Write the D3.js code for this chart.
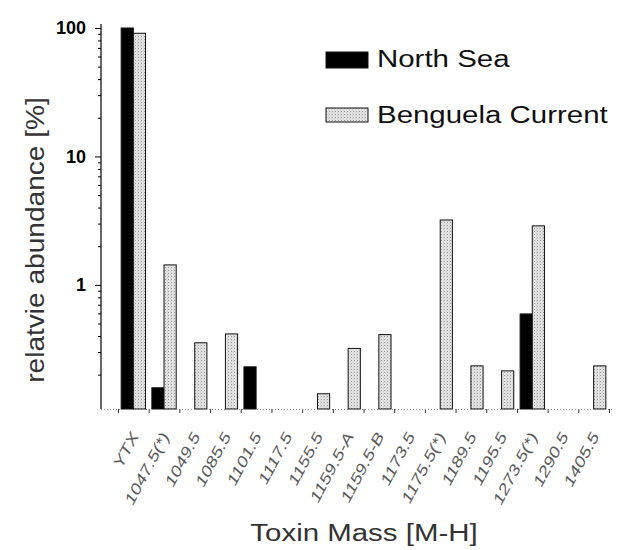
<!DOCTYPE html>
<meta charset="utf-8">
<title>Toxin abundance</title>
<style>
  body { margin: 0; background: #fff; }
  svg { font-family: Arial, "Liberation Sans", sans-serif; }
  .cat-label { font-size: 15px; font-style: italic; fill: #5a5a5a; }
  .axis-title { fill: #333; }
</style>
<body>
<svg width="621" height="550"></svg>
<script src="https://d3js.org/d3.v7.min.js"></script>
<script>
  // categories (toxin masses) and relative abundance per region, in %
  var masses = ["YTX", "1047.5(*)", "1049.5", "1085.5", "1101.5", "1117.5", "1155.5", "1159.5-A",
    "1159.5-B", "1173.5", "1175.5(*)", "1189.5", "1195.5", "1273.5(*)", "1290.5", "1405.5"];
  var northSea = [100, 0.158, null, null, 0.23, null, null, null, null, null, null, null, null, 0.594, null, null];
  var benguela = [91, 1.43, 0.354, 0.415, null, null, 0.142, 0.32, 0.41, null, 3.2, 0.234, 0.214, 2.88, null, 0.234];
  var series = ["North Sea", "Benguela Current"];
  var majorTicks = [1, 10, 100];

  // the scanned figure uses a wide typeface, stretch Arial sideways
  const STRETCH = 1.28;

  const svg = d3.select("svg");

  // stippled fill for the light bars
  var pat = svg.append("defs").append("pattern")
    .attr("id", "stipple")
    .attr("width", 3).attr("height", 3)
    .attr("patternUnits", "userSpaceOnUse");
  pat.append("rect").attr("width", 3).attr("height", 3).attr("fill", "#e4e4e4");
  pat.append("rect").attr("x", 0).attr("y", 0).attr("width", 1).attr("height", 1).attr("fill", "#959595");
  pat.append("rect").attr("x", 2).attr("y", 1.5).attr("width", 0.8).attr("height", 0.8).attr("fill", "#b0b0b0");

  var x = d3.scaleBand().domain(masses).range([118, 609]);
  var xs = d3.scaleBand().domain(series).range([0, x.bandwidth()]).paddingOuter(0.26);
  var xb = d3.scaleLinear().domain([0, masses.length]).range([118, 609]);
  var y = d3.scaleLog().domain([0.108, 100]).range([409, 28]);
  var base = y.range()[0];

  var fills = { "North Sea": "#000", "Benguela Current": "url(#stipple)" };

  // bars
  var rows = [];
  masses.forEach(function (m, i) {
    if (northSea[i] != null) rows.push({ m: m, s: "North Sea", v: northSea[i] });
    if (benguela[i] != null) rows.push({ m: m, s: "Benguela Current", v: benguela[i] });
  });

  svg.append("g").selectAll("rect")
    .data(rows)
    .enter().append("rect")
    .attr("x", d => x(d.m) + xs(d.s))
    .attr("width", xs.bandwidth())
    .attr("y", d => y(d.v))
    .attr("height", d => base - y(d.v))
    .attr("fill", d => fills[d.s])
    .attr("stroke", "#111")
    .attr("stroke-width", 1);

  // x axis: dotted baseline, ticks between categories
  var xAxis = svg.append("g")
    .attr("transform", "translate(0," + base + ")")
    .call(d3.axisBottom(xb).tickValues(d3.range(masses.length + 1)).tickFormat("").tickSize(4).tickSizeOuter(0));
  xAxis.select(".domain").remove();
  xAxis.selectAll(".tick line").attr("stroke", "#333");
  svg.append("line")
    .attr("x1", 101).attr("x2", 612)
    .attr("y1", base + 0.5).attr("y2", base + 0.5)
    .attr("stroke", "#888").attr("stroke-dasharray", "1,2");

  // category labels
  svg.append("g").selectAll("text")
    .data(masses)
    .enter().append("text")
    .attr("class", "cat-label")
    .attr("text-anchor", "end")
    .attr("transform", d => "translate(" + (x(d) + x.bandwidth() / 2 + 6) + "," + (base + 27) + ") rotate(-62) scale(" + STRETCH + ",1)")
    .text(d => d);

  // y axis: minor ticks
  var minor = [];
  [0.1, 1, 10].forEach(function (dec) {
    for (var k = 2; k <= 9; k++) {
      var v = dec * k;
      if (v >= y.domain()[0] && v < 100) minor.push(v);
    }
  });
  var yMinor = svg.append("g")
    .attr("transform", "translate(101,0)")
    .call(d3.axisLeft(y).tickValues(minor).tickFormat("").tickSize(3).tickSizeOuter(0));
  yMinor.select(".domain").remove();

  var yMajor = svg.append("g")
    .attr("transform", "translate(101,0)")
    .call(d3.axisLeft(y).tickValues(majorTicks).tickFormat(d3.format("d")).tickSize(6).tickSizeOuter(0));
  yMajor.select(".domain").remove();
  yMajor.selectAll(".tick text")
    .attr("font-size", 18)
    .attr("font-weight", "bold")
    .attr("font-family", "Arial, 'Liberation Sans', sans-serif")
    .attr("fill", "#000")
    .attr("x", -15);

  svg.append("line")
    .attr("x1", 101).attr("x2", 101)
    .attr("y1", 24).attr("y2", base)
    .attr("stroke", "#000").attr("stroke-width", 1.2);

  // axis titles
  svg.append("text")
    .attr("class", "axis-title")
    .attr("text-anchor", "middle")
    .attr("font-size", 26)
    .attr("transform", "translate(44,240) rotate(-90) scale(1.08,1)")
    .text("relatvie abundance [%]");

  svg.append("text")
    .attr("class", "axis-title")
    .attr("text-anchor", "middle")
    .attr("font-size", 23)
    .attr("transform", "translate(364,541) scale(" + STRETCH + ",1)")
    .text("Toxin Mass [M-H]");

  // legend
  var legend = svg.append("g").selectAll("g")
    .data(series)
    .enter().append("g")
    .attr("transform", (d, i) => "translate(326," + (52 + i * 56) + ")");
  legend.append("rect")
    .attr("width", 42)
    .attr("height", d => d === "North Sea" ? 16 : 14)
    .attr("fill", d => fills[d])
    .attr("stroke", "#111");
  legend.append("text")
    .attr("transform", "translate(51,15) scale(" + STRETCH + ",1)")
    .attr("font-size", 23)
    .attr("fill", "#111")
    .text(d => d);
</script>
</body>
